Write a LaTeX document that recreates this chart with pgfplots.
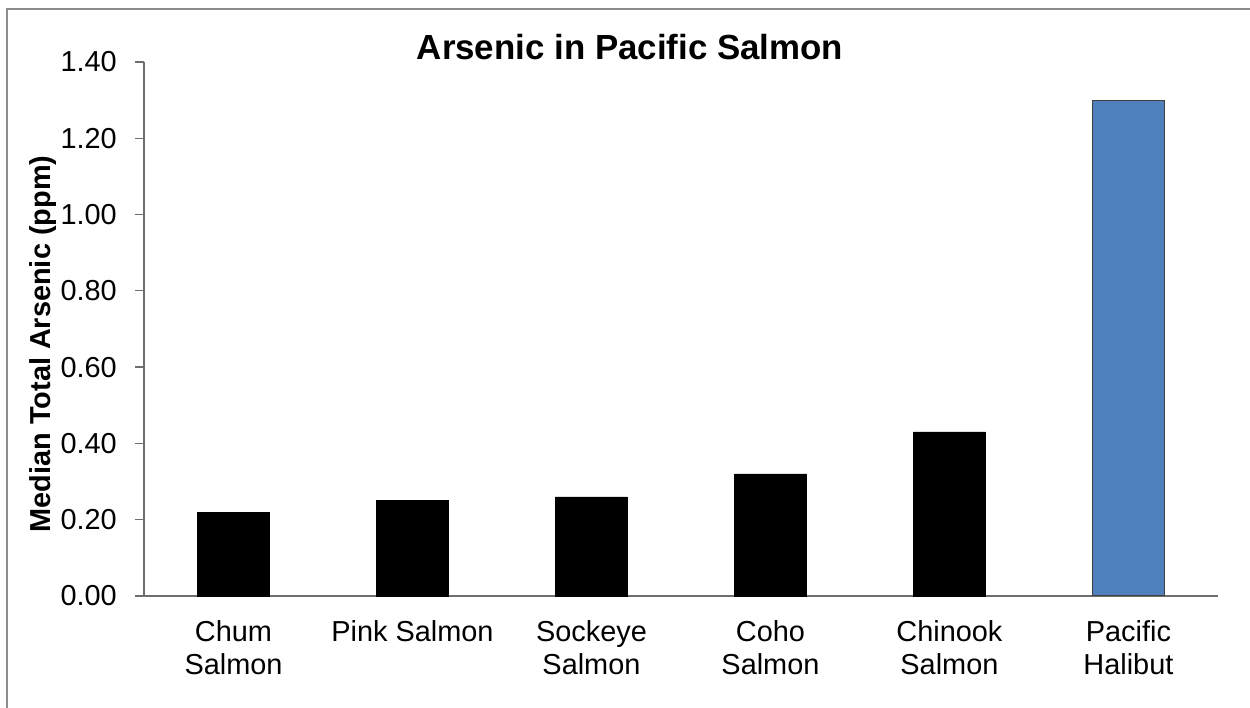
\documentclass[border=0pt]{standalone}
\usepackage{pgfplots}
\pgfplotsset{compat=1.18}
\usepackage{fontspec}
\setmainfont{Liberation Sans}

\definecolor{halibut}{HTML}{4F81BD}
\definecolor{axisgray}{HTML}{6E6E6E}
\definecolor{framegray}{HTML}{8C8C8C}

\begin{document}
\begin{tikzpicture}[x=1bp,y=1bp]
\useasboundingbox (0,0) rectangle (1250,708);
% outer chart frame
\draw[framegray, line width=2.5bp] (7,-20) rectangle (1270,699);

\begin{axis}[
  at={(144bp,112bp)}, anchor=south west,
  scale only axis, width=1074bp, height=534bp,
  xmin=0, xmax=6, ymin=0, ymax=1.4,
  axis x line*=bottom, axis y line*=left,
  axis line style={axisgray, line width=1.3bp, -},
  tick align=outside,
  /pgf/number format/assume math mode=true,
  ticklabel style={font=\fontsize{29}{33}\selectfont, text=black},
  xtick={0.5,1.5,2.5,3.5,4.5,5.5},
  xticklabels={{Chum\\Salmon},{Pink Salmon},{Sockeye\\Salmon},{Coho\\Salmon},{Chinook\\Salmon},{Pacific\\Halibut}},
  xticklabel style={align=center, anchor=north, inner sep=0pt, yshift=-15bp},
  x tick style={draw=none},
  minor xtick={0,1,2,3,4,5,6},
  minor x tick style={axisgray, line width=1.3bp},
  minor tick length=9bp,
  ytick={0,0.2,0.4,0.6,0.8,1.0,1.2,1.4},
  yticklabel={\pgfmathprintnumber[fixed,fixed zerofill,precision=2]{\tick}},
  yticklabel style={anchor=east, inner sep=0pt, xshift=-18bp},
  y tick style={axisgray, line width=1.3bp},
  major tick length=9bp,
  clip=false,
]
\addplot[ybar, bar shift=0pt, bar width=72bp, fill=black, draw=black]
  coordinates {(0.5,0.22) (1.5,0.25) (2.5,0.26) (3.5,0.32) (4.5,0.43)};
\addplot[ybar, bar shift=0pt, bar width=72bp, fill=halibut, draw=black!75, line width=1bp]
  coordinates {(5.5,1.30)};
\end{axis}

\node[anchor=base, font=\bfseries\fontsize{35}{40}\selectfont] at (630,648) {Arsenic in Pacific Salmon};
\node[anchor=base, rotate=90, font=\bfseries\fontsize{29}{33}\selectfont] at (50,364) {Median Total Arsenic (ppm)};
\end{tikzpicture}
\end{document}
